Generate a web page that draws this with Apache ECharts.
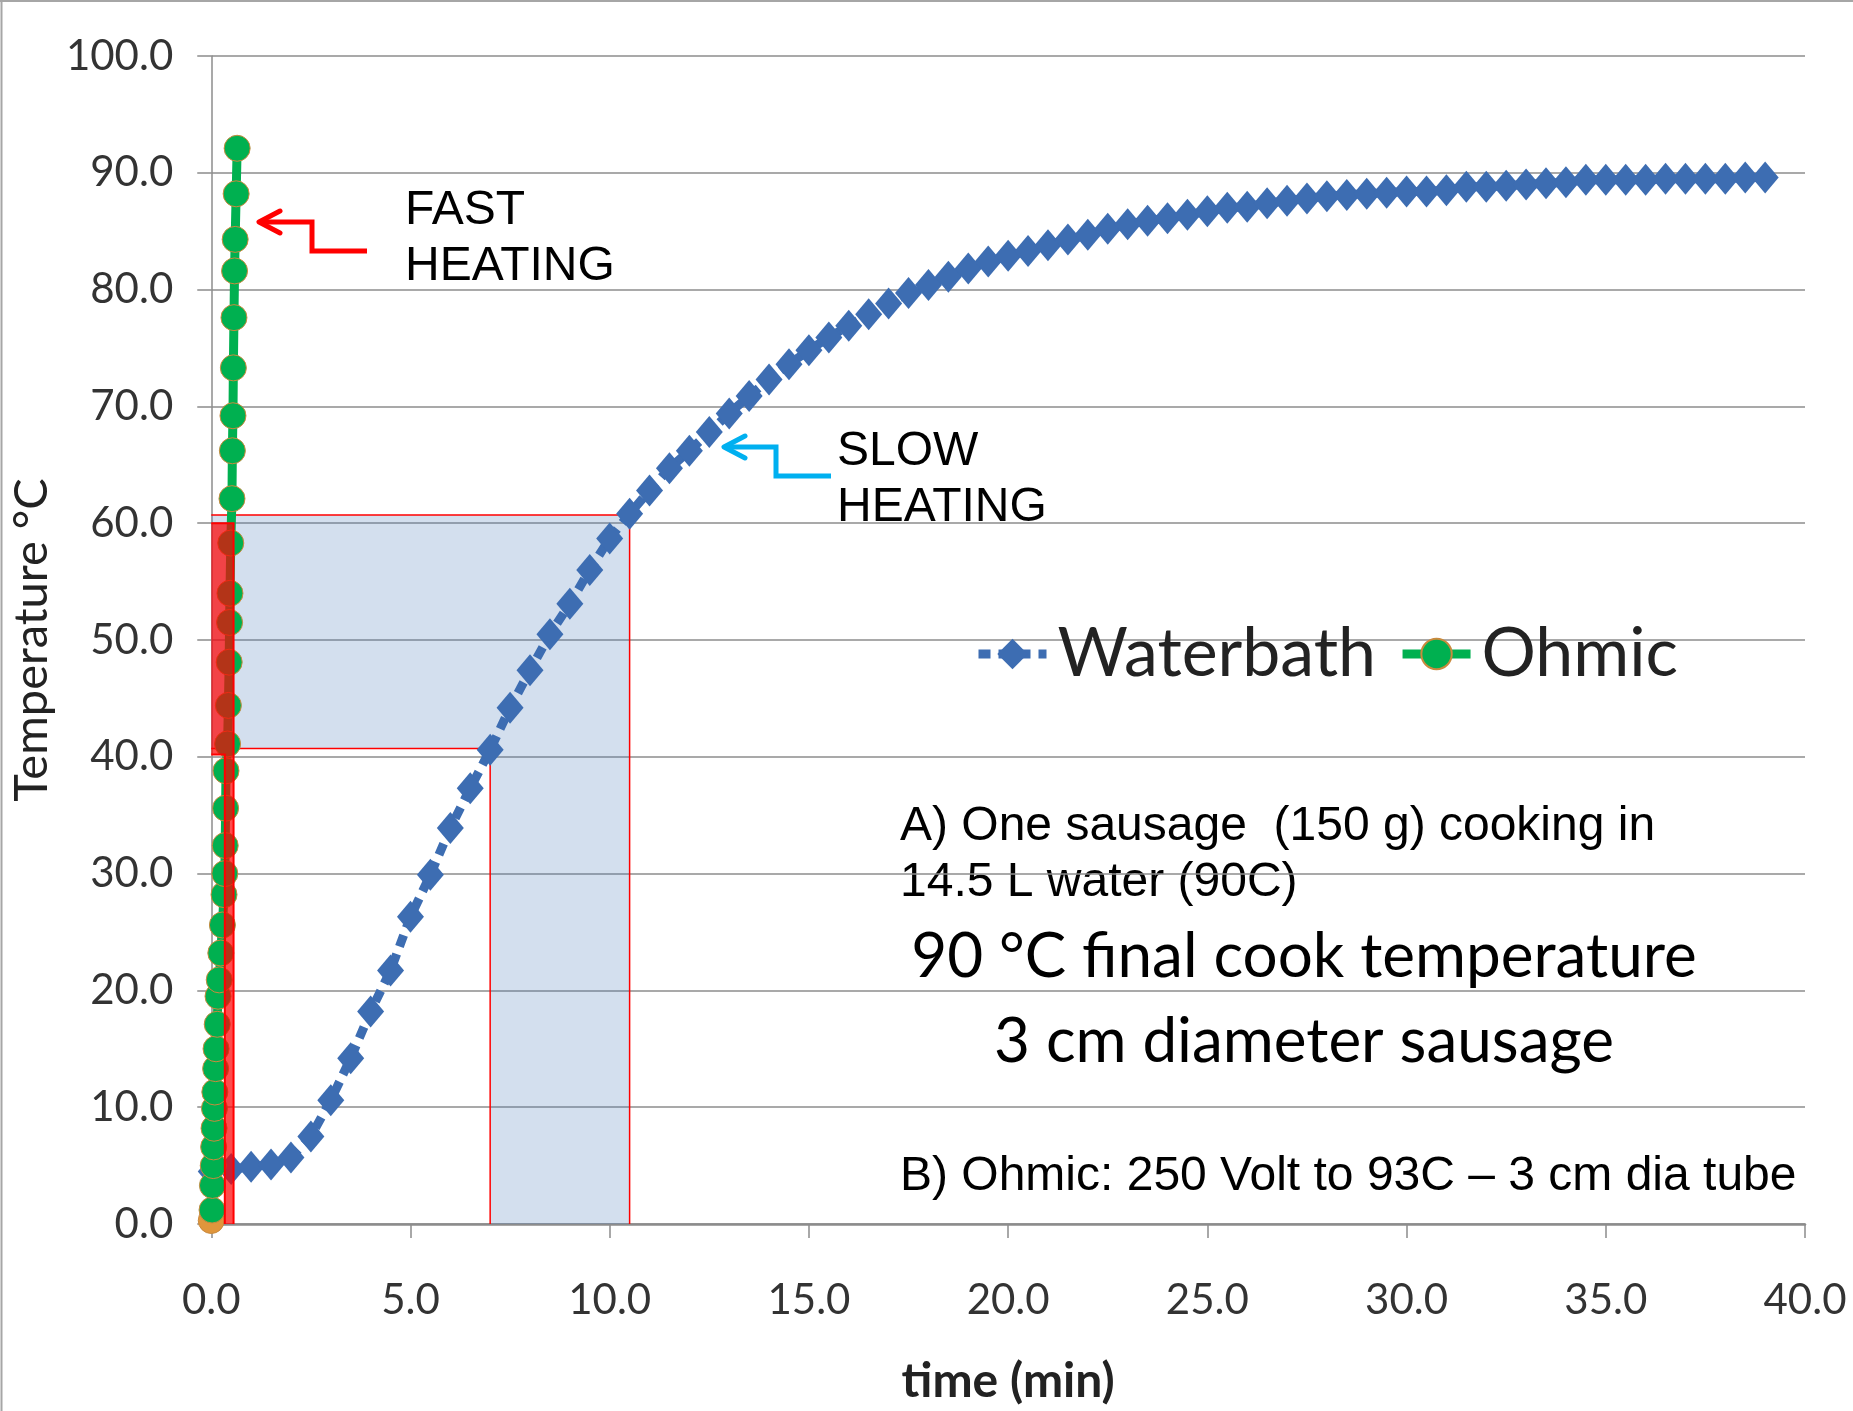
<!DOCTYPE html>
<html><head><meta charset="utf-8">
<script src="https://cdn.jsdelivr.net/npm/echarts@6/dist/echarts.min.js"></script>
<style>html,body{margin:0;padding:0;background:#fff;}#c{width:1853px;height:1411px;}</style>
</head><body><div id="c"></div>
<script>
// Waterbath: time (min) and temperature (°C)
const wbTime = [0,0.5,1,1.5,2,2.5,3,3.5,4,4.5,5,5.5,6,6.5,7,7.5,8,8.5,9,9.5,10,10.5,11,11.5,12,12.5,13,13.5,14,14.5,15,15.5,16,16.5,17,17.5,18,18.5,19,19.5,20,20.5,21,21.5,22,22.5,23,23.5,24,24.5,25,25.5,26,26.5,27,27.5,28,28.5,29,29.5,30,30.5,31,31.5,32,32.5,33,33.5,34,34.5,35,35.5,36,36.5,37,37.5,38,38.5,39];
const wbTemp = [4.5,4.7,4.9,5.1,5.7,7.5,10.6,14.2,18.2,21.7,26.3,29.9,33.9,37.3,40.6,44.2,47.4,50.5,53.1,56.0,58.7,60.8,62.8,64.7,66.2,67.8,69.4,70.9,72.3,73.6,74.8,75.9,76.9,77.9,78.8,79.7,80.4,81.1,81.8,82.4,82.9,83.3,83.8,84.3,84.7,85.2,85.6,85.9,86.1,86.4,86.7,87.0,87.1,87.4,87.6,87.8,88.0,88.1,88.2,88.3,88.4,88.4,88.5,88.8,88.8,88.9,89.0,89.1,89.2,89.4,89.4,89.4,89.4,89.5,89.5,89.5,89.5,89.6,89.6];
// Ohmic: time (min) and temperature (°C)
const ohTime = [0.00,0.02,0.03,0.05,0.06,0.07,0.08,0.09,0.11,0.12,0.15,0.17,0.20,0.24,0.28,0.32,0.34,0.35,0.36,0.37,0.41,0.43,0.45,0.46,0.47,0.49,0.52,0.53,0.545,0.555,0.57,0.585,0.60,0.625,0.65];
const ohTemp = [0.3,1.2,3.3,5.0,6.6,8.2,9.9,11.3,13.3,15.0,17.1,19.5,20.9,23.2,25.6,28.2,30.0,32.4,35.6,38.8,41.1,44.4,48.1,51.5,54.0,58.3,62.1,66.2,69.2,73.3,77.6,81.6,84.3,88.2,92.1];
// Highlighted zones: [outer time, outer temp, inner time, inner temp]
const waterZone = [[10.5, 60.7, 7.0, 40.7]];
const ohmicZone = [[0.56, 60.0, 0.34, 40.2]];
const seriesNames = ['Waterbath', 'Ohmic'];
const yTickLabels = ['0.0','10.0','20.0','30.0','40.0','50.0','60.0','70.0','80.0','90.0','100.0'];
const xTickLabels = ['0.0','5.0','10.0','15.0','20.0','25.0','30.0','35.0','40.0'];

const GRID = '#8c8c8c';
const chart = echarts.init(document.getElementById('c'), null, {renderer: 'canvas'});

function zoneRender(fill, stroke, lw) {
  return function (params, api) {
    const xo = api.value(0), yo = api.value(1), xi = api.value(2), yi = api.value(3);
    const P = (x, y) => api.coord([x, y]);
    const poly = [P(0, yo), P(xo, yo), P(xo, 0), P(xi, 0), P(xi, yi), P(0, yi)];
    return {
      type: 'group',
      children: [
        {type: 'polygon', shape: {points: poly}, style: {fill: fill, stroke: null}},
        {type: 'polyline', shape: {points: [P(0, yo), P(xo, yo), P(xo, 0)]}, style: {fill: null, stroke: stroke, lineWidth: lw}},
        {type: 'polyline', shape: {points: [P(xi, 0), P(xi, yi), P(0, yi)]}, style: {fill: null, stroke: stroke, lineWidth: lw}}
      ]
    };
  };
}

const wbData = wbTime.map((t, i) => [t, wbTemp[i]]);
const ohData = ohTime.map((t, i) => i === 0
  ? {value: [t, ohTemp[i]], itemStyle: {color: '#e0963c'}}
  : [t, ohTemp[i]]);

const labelFont = 'Lato, "Open Sans", sans-serif';
const arialFont = '"Liberation Sans", Arial, sans-serif';

chart.setOption({
  animation: false,
  backgroundColor: '#ffffff',
  grid: {left: 210, right: 48, top: 56, bottom: 178, containLabel: false},
  xAxis: {
    type: 'value', min: 0, max: 40, interval: 5,
    name: 'time (min)', nameLocation: 'middle', nameGap: 134,
    nameTextStyle: {fontFamily: labelFont, fontSize: 48, fontWeight: 'bold', color: '#222'},
    axisLine: {show: true, lineStyle: {color: GRID, width: 2.5}},
    axisTick: {show: true, inside: false, length: 14, lineStyle: {color: GRID, width: 1.5}},
    axisLabel: {margin: 55, fontFamily: labelFont, fontSize: 42, color: '#333',
      formatter: v => xTickLabels[Math.round(v / 5)]},
    splitLine: {show: false}
  },
  yAxis: {
    type: 'value', min: 0, max: 100, interval: 10,
    name: 'Temperature °C', nameLocation: 'middle', nameGap: 131, nameRotate: 90,
    nameTextStyle: {fontFamily: labelFont, fontSize: 47, color: '#222'},
    axisLine: {show: true, lineStyle: {color: GRID, width: 1.5}},
    axisTick: {show: true, inside: false, length: 14, lineStyle: {color: GRID, width: 1.5}},
    axisLabel: {margin: 38, fontFamily: labelFont, fontSize: 42, color: '#333',
      formatter: v => yTickLabels[Math.round(v / 10)]},
    splitLine: {show: true, lineStyle: {color: GRID, width: 1.5}}
  },
  legend: {
    data: seriesNames, left: 969, top: 615, orient: 'horizontal',
    itemWidth: 68, itemHeight: 38, itemGap: 22,
    lineStyle: {width: 9},
    textStyle: {fontFamily: labelFont, fontSize: 68, color: '#222', padding: [0, 0, 0, 6]}
  },
  series: [
    {
      type: 'custom', name: 'waterZone', z: 1, silent: true,
      renderItem: zoneRender('rgba(79,129,189,0.25)', '#ff0000', 1.5),
      encode: {x: [0, 2], y: [1, 3]}, data: waterZone
    },
    {
      type: 'line', name: seriesNames[0], z: 2, data: wbData,
      symbol: 'diamond', symbolSize: [27, 32], showSymbol: true,
      itemStyle: {color: '#3d6db2'},
      lineStyle: {color: '#3d6db2', width: 9, type: [12, 8]}
    },
    {
      type: 'line', name: seriesNames[1], z: 3, data: ohData,
      symbol: 'circle', symbolSize: 26, showSymbol: true,
      itemStyle: {color: '#00b050', borderColor: '#c98a3e', borderWidth: 1},
      lineStyle: {color: '#00b050', width: 9}
    },
    {
      type: 'custom', name: 'ohmicZone', z: 4, silent: true,
      renderItem: zoneRender('rgba(255,0,0,0.7)', '#ff0000', 2),
      encode: {x: [0, 2], y: [1, 3]}, data: ohmicZone
    }
  ],
  graphic: [
    {type: 'line', shape: {x1: 1.5, y1: 0, x2: 1.5, y2: 1411}, style: {stroke: '#a6a6a6', lineWidth: 2}},
    {type: 'line', shape: {x1: 0, y1: 1, x2: 1853, y2: 1}, style: {stroke: '#a6a6a6', lineWidth: 2}},
    {type: 'text', left: 405, top: 187, style: {text: 'FAST', font: '48px ' + arialFont, fill: '#000'}},
    {type: 'text', left: 405, top: 243, style: {text: 'HEATING', font: '48px ' + arialFont, fill: '#000'}},
    {type: 'polyline', shape: {points: [[367, 251], [312, 251], [312, 222], [260, 222]]}, style: {stroke: '#ff0000', lineWidth: 5, fill: null}},
    {type: 'polyline', shape: {points: [[280, 211], [259, 222], [280, 233]]}, style: {stroke: '#ff0000', lineWidth: 5, fill: null, lineCap: 'round', lineJoin: 'round'}},
    {type: 'text', left: 837, top: 428, style: {text: 'SLOW', font: '48px ' + arialFont, fill: '#000'}},
    {type: 'text', left: 837, top: 484, style: {text: 'HEATING', font: '48px ' + arialFont, fill: '#000'}},
    {type: 'polyline', shape: {points: [[831, 476], [776, 476], [776, 447], [725, 447]]}, style: {stroke: '#00b0f0', lineWidth: 5, fill: null}},
    {type: 'polyline', shape: {points: [[745, 436], [724, 447], [745, 458]]}, style: {stroke: '#00b0f0', lineWidth: 5, fill: null, lineCap: 'round', lineJoin: 'round'}},
    {type: 'text', left: 900, top: 803, style: {text: 'A) One sausage  (150 g) cooking in', font: '48px ' + arialFont, fill: '#000'}},
    {type: 'text', left: 900, top: 859, style: {text: '14.5 L water (90C)', font: '48px ' + arialFont, fill: '#000'}},
    {type: 'text', x: 1304, y: 957, style: {text: '90 °C final cook temperature', font: '62px ' + labelFont, fill: '#000', align: 'center', verticalAlign: 'middle'}},
    {type: 'text', x: 1304, y: 1042, style: {text: '3 cm diameter sausage', font: '62px ' + labelFont, fill: '#000', align: 'center', verticalAlign: 'middle'}},
    {type: 'text', left: 900, top: 1153, style: {text: 'B) Ohmic: 250 Volt to 93C – 3 cm dia tube', font: '48px ' + arialFont, fill: '#000'}}
  ]
});
</script>
</body></html>
